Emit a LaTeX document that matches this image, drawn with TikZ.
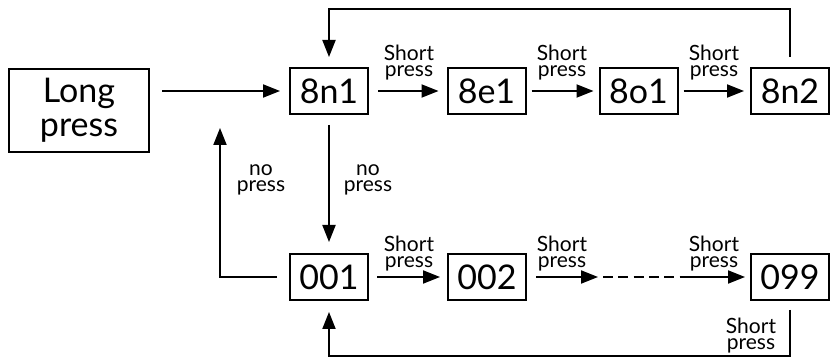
\documentclass[tikz,border=0pt]{standalone}
\usepackage{fontspec}
\setmainfont{Lato}
\usetikzlibrary{arrows.meta}
\begin{document}
\begin{tikzpicture}[x=1pt,y=-1pt,line width=2pt,
  box/.style={draw,line width=2pt,inner sep=0pt,minimum width=78pt,minimum height=46pt,font=\fontsize{34}{34}\selectfont},
  lbl/.style={align=center,inner sep=0pt,font=\fontsize{21}{16}\selectfont},
  arr/.style={-{Triangle[length=17pt,width=13pt]}},
]
\useasboundingbox (0,0) rectangle (831,358);
% boxes
\node[box,minimum width=140pt,minimum height=83pt,align=center] (lp) at (79,110.5) {Long\\press};
\node[box] (n1) at (329,91) {8n1};
\node[box] (e1) at (486.5,91) {8e1};
\node[box] (o1) at (638.5,91) {8o1};
\node[box] (n2) at (790,91) {8n2};
\node[box] (a1) at (329,277) {001};
\node[box] (a2) at (487,277) {002};
\node[box] (a99) at (790,277) {099};
% helper coordinates
\coordinate (d1) at (598,277);
\coordinate (d2) at (686,277);
\coordinate (up) at (220,128);
\coordinate (top) at (0,9);
\coordinate (bot) at (0,356);
% row 1 arrows
\draw[arr,shorten <=12pt,shorten >=9pt] (lp.east |- n1.west) -- (n1.west);
\draw[arr,shorten <=9pt,shorten >=8pt] (n1) -- (e1);
\draw[arr,shorten <=5pt,shorten >=5pt] (e1) -- (o1);
\draw[arr,shorten <=5pt,shorten >=6pt] (o1) -- (n2);
% row 2 arrows
\draw[arr,shorten <=8pt,shorten >=7pt] (a1) -- (a2);
\draw[arr,shorten <=9pt] (a2) -- (d1);
\draw[dash pattern=on 10pt off 5.3pt,shorten <=5pt] (d1) -- (d2);
\draw[arr,shorten >=5pt] (d2) -- (a99);
% vertical
\draw[arr,shorten <=10pt,shorten >=11pt] (n1) -- (a1);
\draw[arr,shorten <=12pt] (a1.west) -- (a1.west -| up) -- (up);
% loops
\draw[arr,shorten <=10pt,shorten >=10pt] (n2.north) -- (n2.north |- top) -- (n1.north |- top) -- (n1.north);
\draw[arr,shorten <=9pt,shorten >=11pt] (a99.south) -- (a99.south |- bot) -- (a1.south |- bot) -- (a1.south);
% labels
\node[lbl] (l1) at (409,62.5) {Short\\press};
\node[lbl] (l2) at (562,62.5) {Short\\press};
\node[lbl] (l3) at (714,62.5) {Short\\press};
\node[lbl] (l4) at (409,254) {Short\\press};
\node[lbl] (l5) at (562,254) {Short\\press};
\node[lbl] (l6) at (714,254) {Short\\press};
\node[lbl] (l7) at (751,336) {Short\\press};
\node[lbl] (l8) at (368,180) {no\\press};
\node[lbl] (l9) at (261,180) {no\\press};
\end{tikzpicture}
\end{document}
